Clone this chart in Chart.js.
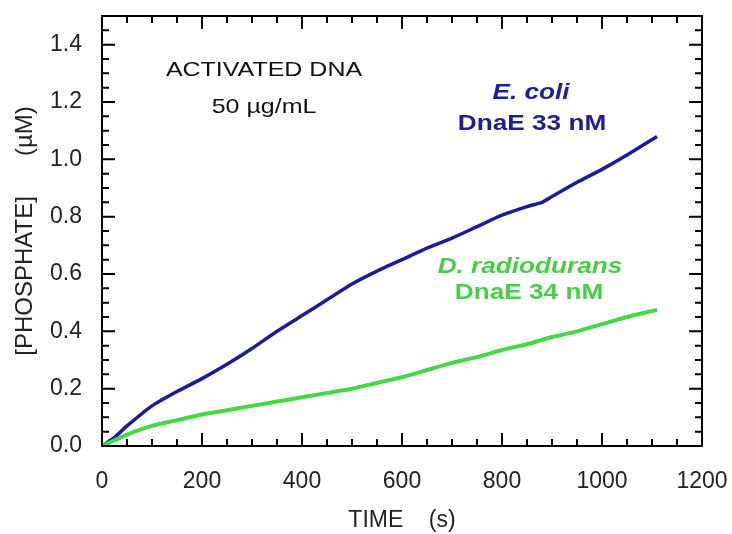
<!DOCTYPE html>
<html>
<head>
<meta charset="utf-8">
<script src="https://cdn.jsdelivr.net/npm/chart.js@4.4.1/dist/chart.umd.min.js"></script>
<style>
  html, body { margin: 0; padding: 0; background: #fff; }
  #wrap { width: 732px; height: 534px; }
</style>
</head>
<body>
<div id="wrap"><canvas id="graficoFosfato" width="732" height="534"></canvas></div>
<script>
// time (s) shared by both traces
var tempo = [0, 25, 50, 100, 150, 200, 250, 300, 350, 400, 450, 500, 550, 600,
             650, 700, 750, 800, 850, 880, 900, 950, 1000, 1050, 1110];
// [phosphate] (uM)
var eColi = [0, 0.03, 0.07, 0.14, 0.19, 0.235, 0.285, 0.34, 0.40, 0.455, 0.51, 0.565, 0.61, 0.65,
             0.69, 0.725, 0.765, 0.805, 0.835, 0.85, 0.87, 0.92, 0.965, 1.015, 1.08];
var dRadio = [0, 0.02, 0.04, 0.07, 0.09, 0.11, 0.125, 0.14, 0.155, 0.17, 0.185, 0.20, 0.22, 0.24,
              0.265, 0.29, 0.31, 0.335, 0.355, 0.37, 0.38, 0.40, 0.425, 0.45, 0.475];

var xTickLabels = ['0', '200', '400', '600', '800', '1000', '1200'];
var yTickLabels = ['0.0', '0.2', '0.4', '0.6', '0.8', '1.0', '1.2', '1.4'];

// text placed inside the plot, in data coordinates
var notas = [
    { text: 'ACTIVATED DNA', x: 324, y: 1.311, font: '21px "Liberation Sans"', color: '#111' },
    { text: '50 \u00b5g/mL', x: 324, y: 1.182, font: '21px "Liberation Sans"', color: '#111' },
    { text: 'E. coli', x: 858, y: 1.231, font: 'italic bold 22px "Liberation Sans"', color: '#1e1e96' },
    { text: 'DnaE 33 nM', x: 860, y: 1.123, font: 'bold 22px "Liberation Sans"', color: '#1e1e96' },
    { text: 'D. radiodurans', x: 856, y: 0.624, font: 'italic bold 22px "Liberation Sans"', color: '#46cf46' },
    { text: 'DnaE 34 nM', x: 854, y: 0.534, font: 'bold 22px "Liberation Sans"', color: '#46cf46' }
];

function pontos(ys) {
    return tempo.map(function(t, i) { return { x: t, y: ys[i] }; });
}

// frame + inward ticks on all four sides, plus the text
var molduraPlugin = {
    id: 'moldura',
    afterDatasetsDraw: function(chart) {
        var ctx = chart.ctx;
        var a = chart.chartArea;
        var xs = chart.scales.x, ys = chart.scales.y;
        ctx.save();
        ctx.strokeStyle = '#000';
        ctx.lineWidth = 2;
        ctx.strokeRect(a.left, a.top, a.right - a.left, a.bottom - a.top);
        ctx.beginPath();
        xs.ticks.forEach(function(tk) {
            var px = xs.getPixelForValue(tk.value);
            var len = (Math.round(tk.value) % 200 === 0) ? 13 : 7;
            ctx.moveTo(px, a.bottom); ctx.lineTo(px, a.bottom - len);
            ctx.moveTo(px, a.top); ctx.lineTo(px, a.top + len);
        });
        ys.ticks.forEach(function(tk) {
            var py = ys.getPixelForValue(tk.value);
            var r = tk.value / 0.2;
            var len = (Math.abs(r - Math.round(r)) < 1e-6) ? 13 : 7;
            ctx.moveTo(a.left, py); ctx.lineTo(a.left + len, py);
            ctx.moveTo(a.right, py); ctx.lineTo(a.right - len, py);
        });
        ctx.stroke();

        ctx.textAlign = 'center';
        ctx.textBaseline = 'middle';
        notas.forEach(function(n) {
            var px = xs.getPixelForValue(n.x);
            var py = ys.getPixelForValue(n.y);
            ctx.save();
            ctx.translate(px, py);
            ctx.scale(1.19, 1);
            ctx.font = n.font;
            ctx.fillStyle = n.color;
            ctx.fillText(n.text, 0, 0);
            ctx.restore();
        });
        ctx.restore();
    }
};

var config = {
    type: 'line',
    data: {
        datasets: [{
            label: 'D. radiodurans DnaE 34 nM',
            data: pontos(dRadio),
            borderColor: '#45d845',
            borderWidth: 4,
            pointRadius: 0,
            tension: 0.2,
            fill: false
        }, {
            label: 'E. coli DnaE 33 nM',
            data: pontos(eColi),
            borderColor: '#1c1c9a',
            borderWidth: 3.5,
            pointRadius: 0,
            tension: 0.2,
            fill: false
        }]
    },
    options: {
        responsive: false,
        animation: false,
        layout: {
            padding: { left: 0, right: 30, top: 16, bottom: 0 }
        },
        plugins: {
            legend: { display: false },
            tooltip: { enabled: false }
        },
        scales: {
            x: {
                type: 'linear',
                min: 0,
                max: 1200,
                grid: { display: false },
                border: { display: false },
                ticks: {
                    stepSize: 50,
                    autoSkip: false,
                    maxRotation: 0,
                    padding: 14,
                    color: '#222',
                    font: { family: 'Liberation Sans', size: 23 },
                    callback: function(v) {
                        return (Math.round(v) % 200 === 0) ? xTickLabels[Math.round(v) / 200] : '';
                    }
                },
                title: {
                    display: true,
                    text: 'TIME    (s)',
                    color: '#222',
                    font: { family: 'Liberation Sans', size: 23 },
                    padding: { top: 0, bottom: 0 }
                },
                afterFit: function(s) {
                    s.height = 88;
                    s.paddingLeft = 0;
                    s.paddingRight = 0;
                }
            },
            y: {
                type: 'linear',
                min: 0,
                max: 1.5,
                grid: { display: false },
                border: { display: false },
                ticks: {
                    stepSize: 0.05,
                    autoSkip: false,
                    padding: 12,
                    color: '#222',
                    font: { family: 'Liberation Sans', size: 23 },
                    callback: function(v) {
                        var r = v / 0.2;
                        if (Math.abs(r - Math.round(r)) < 1e-6) {
                            return yTickLabels[Math.round(r)] || '';
                        }
                        return '';
                    }
                },
                title: {
                    display: true,
                    text: '[PHOSPHATE]      (\u00b5M)',
                    color: '#222',
                    font: { family: 'Liberation Sans', size: 24 },
                    padding: { top: 11, bottom: 0 }
                },
                afterFit: function(s) {
                    s.width = 102;
                    s.paddingTop = 0;
                    s.paddingBottom = 0;
                }
            }
        }
    },
    plugins: [molduraPlugin]
};

window.onload = function() {
    var ctx = document.getElementById('graficoFosfato').getContext('2d');
    window.meuGrafico = new Chart(ctx, config);
};
</script>
</body>
</html>
